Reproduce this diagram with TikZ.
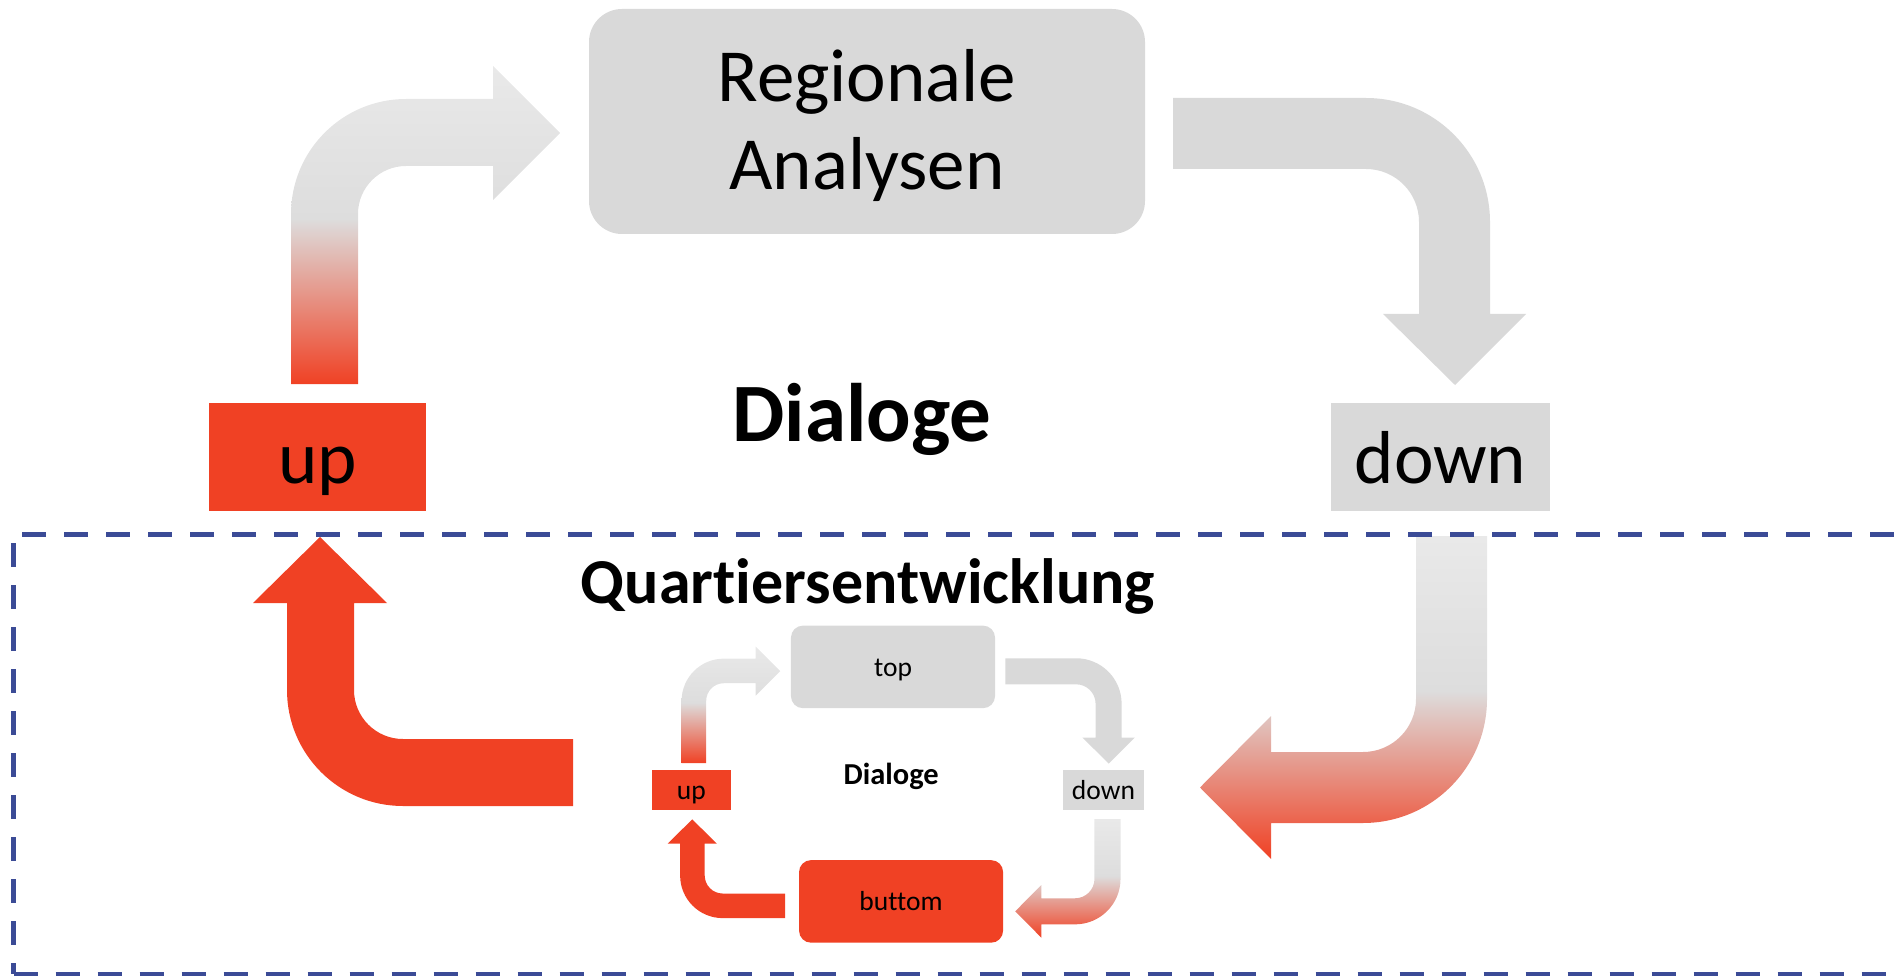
\documentclass[tikz,border=0pt]{standalone}
\usepackage{fontspec}
\setmainfont{Carlito}[Ligatures=NoCommon]

\definecolor{boxgrey}{HTML}{D9D9D9}
\definecolor{boxred}{HTML}{F04124}
\definecolor{fadelight}{HTML}{E9E9E9}
\definecolor{fademid}{HTML}{DDDDDD}
\definecolor{frameblue}{HTML}{3B4B96}

% light grey on top, turning red in the lower half
\pgfdeclareverticalshading{greytored}{100bp}{color(0bp)=(boxred); color(25bp)=(boxred); color(51bp)=(fademid); color(75bp)=(fadelight); color(100bp)=(fadelight)}

\tikzset{
  labelfont/.style={font=\fontsize{75}{88}\selectfont},
  cyclebox/.style={inner sep=0pt, labelfont, text height=56pt, text depth=4pt},
  greybox/.style={cyclebox, fill=boxgrey},
  redbox/.style={cyclebox, fill=boxred},
  roundbox/.style={rounded corners=33pt},
  boxlabel/.style={labelfont, anchor=base, inner sep=0pt},
  fadearrow/.style={shade, shading=greytored},
  greyarrow/.style={fill=boxgrey},
  redarrow/.style={fill=boxred},
  centretitle/.style={font=\bfseries\fontsize{83}{90}\selectfont, anchor=base, inner sep=0pt},
  frameline/.style={draw=frameblue, line width=5pt, dash pattern=on 24pt off 18pt},
}

% one up/top/down cycle; #1 prefix for node names, #2 labels of the top box
\newcommand\dialogcycle[2]{%
  \node[greybox, roundbox, minimum width=556pt, minimum height=225pt] (#1top) at (867,121.5) {};
  #2
  \node[redbox, minimum width=217pt, minimum height=108pt] (#1up) at (317.5,457) {up};
  \node[greybox, minimum width=219pt, minimum height=108pt] (#1down) at (1440.5,457) {down};
  \node[centretitle] (#1dialoge) at (862,441) {Dialoge};
  % up -> top
  \path[fadearrow] (291,384) -- (291,214) arc[start angle=180, end angle=90, radius=115pt]
    -- (493,99) -- (493,66) -- (560,133) -- (493,200) -- (493,166) -- (406,166)
    arc[start angle=90, end angle=180, radius=48pt] -- (358,384) -- cycle;
  % top -> down
  \path[greyarrow] (1173,98) -- (1366,98) arc[start angle=90, end angle=0, radius=124pt]
    -- (1490,314) -- (1526,314) -- (1455,385) -- (1383,314) -- (1419,314) -- (1419,222)
    arc[start angle=0, end angle=90, radius=53pt] -- (1173,169) -- cycle;
  % down -> bottom
  \path[fadearrow] (1416,536) -- (1487,536) -- (1487,699) arc[start angle=0, end angle=-90, radius=124pt]
    -- (1271,823) -- (1271,859) -- (1200,787.5) -- (1271,716) -- (1271,752) -- (1363,752)
    arc[start angle=-90, end angle=0, radius=53pt] -- cycle;
  % bottom -> up
  \path[redarrow] (573,739) -- (403,739) arc[start angle=270, end angle=180, radius=49pt]
    -- (354,603) -- (387,603) -- (320,537) -- (253,603) -- (287,603) -- (287,690)
    arc[start angle=180, end angle=270, radius=116pt] -- (573,806) -- cycle;
}

\begin{document}
\begin{tikzpicture}[x=1pt, y=-1pt]
  \useasboundingbox (0,0) rectangle (1896,976);
  \clip (0,0) rectangle (1896,976);

  % outer cycle
  \dialogcycle{big}{%
    \node[boxlabel] (bigtopa) at (867,102) {Regionale};
    \node[boxlabel] (bigtopb) at (867,190) {Analysen};
  }

  % frame of the district level
  \coordinate (frameTL) at (13.5,534.5);
  \coordinate (frameTR) at (1910,534.5);
  \coordinate (frameBL) at (13.5,974);
  \coordinate (frameBR) at (1910,974);
  \draw[frameline, dash phase=33.5pt] (frameTL) -- (frameTR);
  \draw[frameline, dash phase=33.5pt] (frameTL) -- (frameBL);
  \draw[frameline] (frameBL) -- (frameBR);

  \node[font=\bfseries\fontsize{64}{70}\selectfont, anchor=base, inner sep=0pt] (quartier) at (868,603) {Quartiersentwicklung};

  % inner cycle, a reduced copy with its own bottom box
  % (corner rounding is not scaled with the scope, so it is set smaller here)
  \begin{scope}[shift={(574.8,622.3)}, scale=0.367, transform shape,
                roundbox/.style={rounded corners=12pt}]
    \dialogcycle{small}{%
      \node[boxlabel] (smalltopa) at (867,147.5) {top};
    }
    \node[redbox, roundbox, minimum width=556pt, minimum height=225pt] (smallbottom) at (889,760.5) {buttom};
  \end{scope}
\end{tikzpicture}
\end{document}
